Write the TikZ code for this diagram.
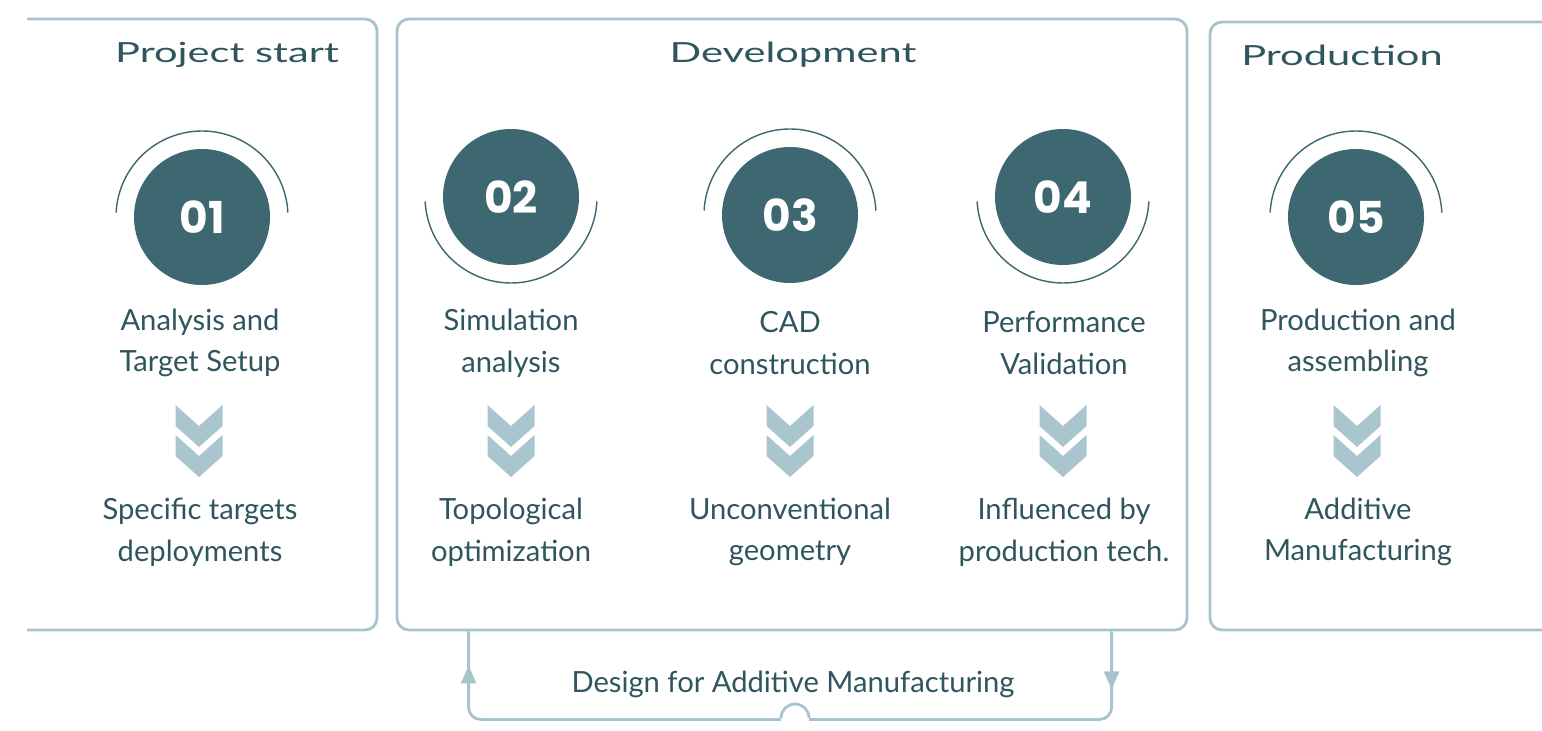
\documentclass[tikz,border=0pt]{standalone}
\usepackage{fontspec}
\setmainfont{Lato}
\newfontfamily\numfont{Poppins}
\usepackage{tikz}
\usetikzlibrary{arrows.meta,calc}
\definecolor{tealdark}{HTML}{3D6771}
\definecolor{tealtext}{HTML}{2F555E}
\definecolor{framec}{HTML}{A8C4CB}
\definecolor{chevc}{HTML}{A9C6CE}

\begin{document}
\begin{tikzpicture}[
    frame/.style={draw=framec, line width=0.8pt, rounded corners=1.2mm},
    phase/.style={text=tealtext, font=\fontsize{7.9}{10}\selectfont},
    badge/.style={circle, fill=tealdark, minimum size=1.36cm, inner sep=0pt, text=white, font=\numfont\bfseries\fontsize{12.5}{14}\selectfont},
    halo/.style={draw=tealdark, line width=0.4pt},
    label/.style={align=center, text=tealtext, font=\fontsize{8.3}{11.9}\selectfont},
    loopline/.style={draw=framec, line width=0.8pt},
    chevrons/.pic={
        \fill[chevc] (-0.235,0) -- (0,-0.21) -- (0.235,0) -- (0.235,-0.21) -- (0,-0.42) -- (-0.235,-0.21) -- cycle;
        \fill[chevc] (-0.235,-0.30) -- (0,-0.51) -- (0.235,-0.30) -- (0.235,-0.51) -- (0,-0.72) -- (-0.235,-0.51) -- cycle;
    }]
        \useasboundingbox (0,0) rectangle (15.42,7.30);

        % Project start
        \draw[frame] (0.27,7.11) -- (3.77,7.11) -- (3.77,1.00) -- (0.27,1.00);
        \node[phase] (pstart) at (2.27,6.75) {\scalebox{1.5}[1]{Project start}};
        \node[badge] (s1) at (2.02,5.13) {01};
        \draw[halo] (s1.center) ++(3:0.86) arc (3:177:0.86);
        \node[label] (s1top) at (2.00,3.87) {Analysis and\\Target Setup};
        \pic at (1.99,3.25) {chevrons};
        \node[label] (s1bot) at (2.00,1.98) {Specific targets\\deployments};

        % Development
        \node[frame, minimum width=7.90cm, minimum height=6.11cm, inner sep=0pt] (dev) at (7.92,4.055) {};
        \node[phase] (devtitle) at (7.93,6.75) {\scalebox{1.5}[1]{Development}};
        \node[badge] (s2) at (5.11,5.33) {02};
        \draw[halo] (s2.center) ++(-3:0.86) arc (-3:-177:0.86);
        \node[label] (s2top) at (5.11,3.87) {Simulation\\analysis};
        \pic at (5.11,3.25) {chevrons};
        \node[label] (s2bot) at (5.11,1.98) {Topological\\optimization};

        \node[badge] (s3) at (7.90,5.15) {03};
        \draw[halo] (s3.center) ++(3:0.86) arc (3:177:0.86);
        \node[label] (s3top) at (7.90,3.87) {CAD\\construction};
        \pic at (7.90,3.25) {chevrons};
        \node[label] (s3bot) at (7.90,1.98) {Unconventional\\geometry};

        \node[badge] (s4) at (10.63,5.33) {04};
        \draw[halo] (s4.center) ++(-3:0.86) arc (-3:-177:0.86);
        \node[label] (s4top) at (10.64,3.87) {Performance\\Validation};
        \pic at (10.63,3.25) {chevrons};
        \node[label] (s4bot) at (10.64,1.98) {Influenced by\\production tech.};

        % Production
        \draw[frame] (15.42,7.08) -- (12.10,7.08) -- (12.10,1.00) -- (15.42,1.00);
        \node[phase] (prod) at (13.42,6.75) {\scalebox{1.5}[1]{Production}};
        \node[badge] (s5) at (13.56,5.13) {05};
        \draw[halo] (s5.center) ++(3:0.86) arc (3:177:0.86);
        \node[label] (s5top) at (13.58,3.87) {Production and\\assembling};
        \pic at (13.57,3.25) {chevrons};
        \node[label] (s5bot) at (13.58,1.98) {Additive\\Manufacturing};

        % DfAM loop
        \coordinate (fbR) at ($(dev.south west)+(7.16,0)$);
        \coordinate (fbL) at ($(dev.south west)+(0.73,0)$);
        \draw[loopline, rounded corners=1.2mm] (fbR) -- ++(0,-0.88) -- ($(fbL)+(0,-0.88)$) -- (fbL);
        \draw[white, line width=1.6pt] (7.81,0.12) -- (8.09,0.12);
        \draw[loopline] (8.09,0.12) arc (0:180:0.14);
        \draw[loopline, -{Triangle[length=1.8mm, width=1.5mm]}] ($(fbR)+(0,-0.25)$) -- ($(fbR)+(0,-0.58)$);
        \draw[loopline, -{Triangle[length=1.8mm, width=1.5mm]}] ($(fbL)+(0,-0.70)$) -- ($(fbL)+(0,-0.34)$);
        \node[label] (dfam) at (7.93,0.46) {Design for Additive Manufacturing};
    \end{tikzpicture}
\end{document}
